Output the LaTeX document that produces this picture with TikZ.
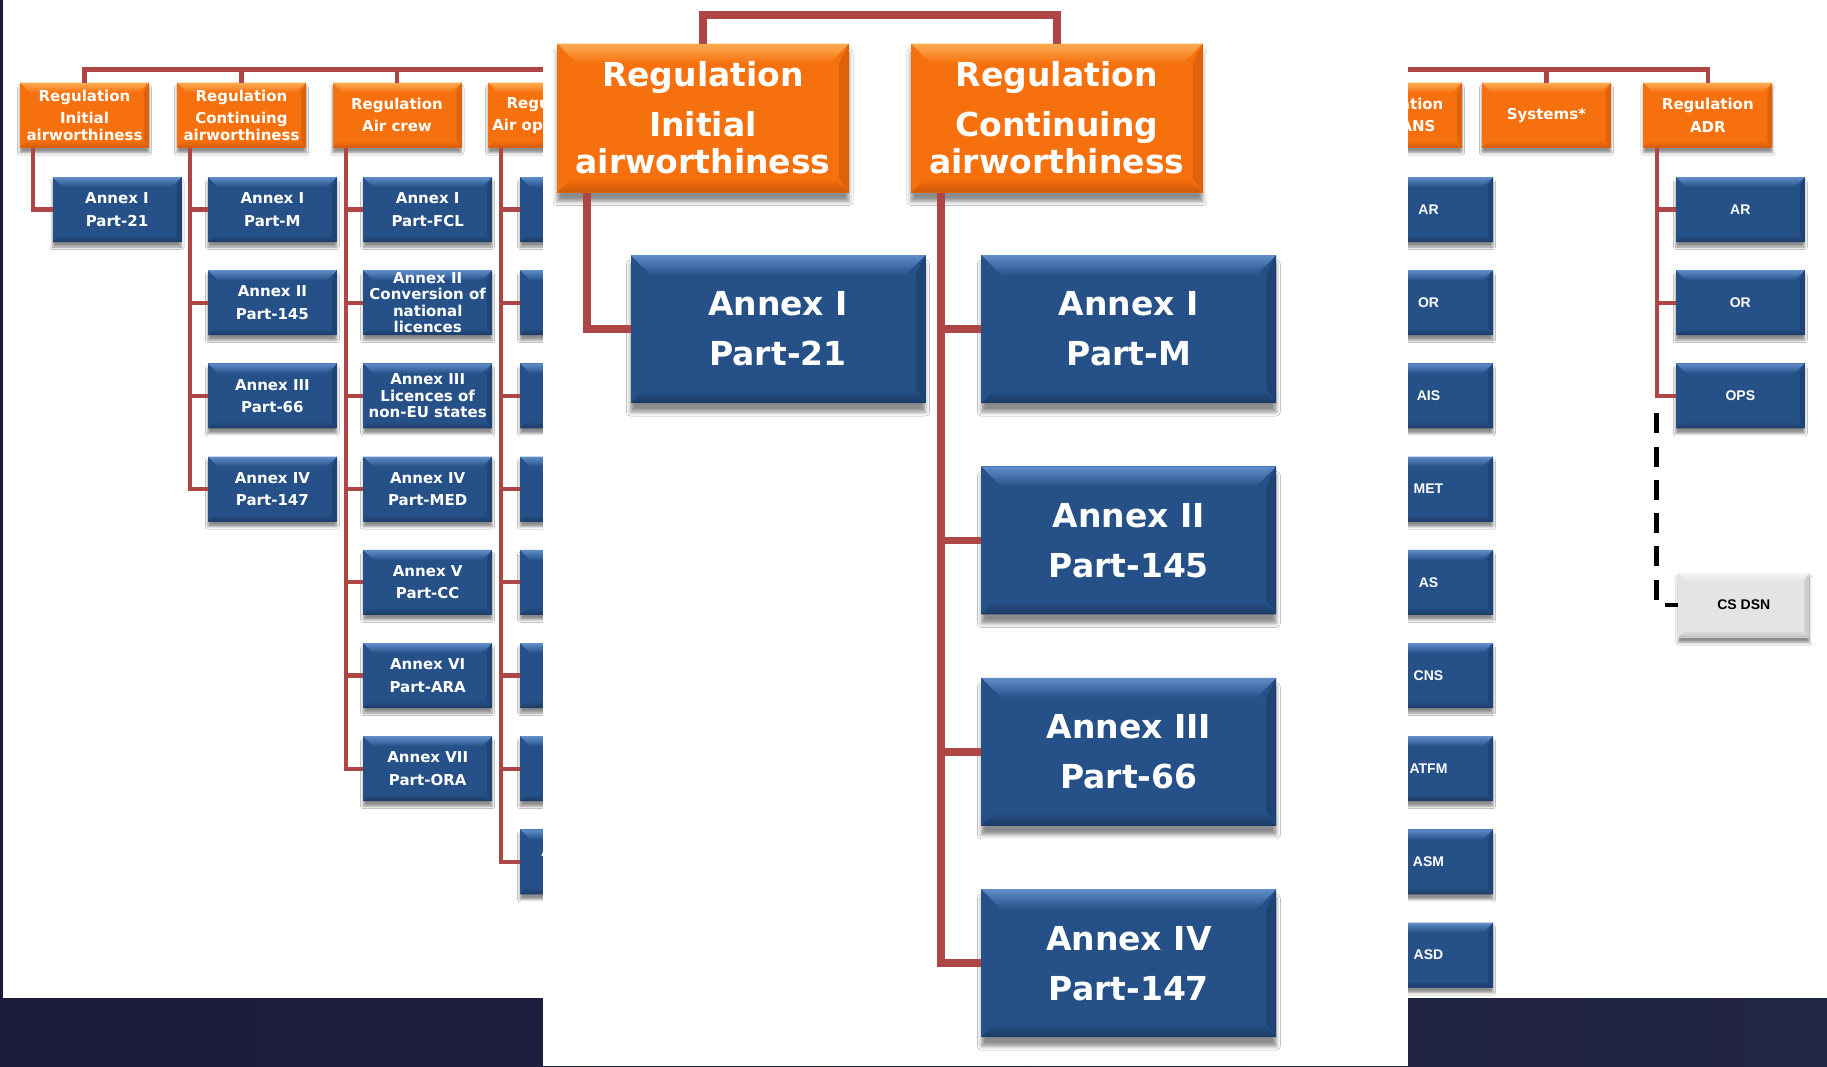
\documentclass[tikz,border=0pt]{standalone}
\usepackage{fontspec}
\setmainfont{DejaVu Sans}
\newfontfamily\arialfont{Liberation Sans}
\usetikzlibrary{shadows.blur}

\definecolor{orgbody}{RGB}{247,112,14}
\definecolor{orglight}{RGB}{252,172,84}
\definecolor{orgdark}{RGB}{206,88,10}
\definecolor{bluebody}{RGB}{38,81,136}
\definecolor{bluelight}{RGB}{96,142,202}
\definecolor{bluedark}{RGB}{27,58,100}
\definecolor{graybody}{RGB}{228,228,228}
\definecolor{graylight}{RGB}{247,247,247}
\definecolor{graydark}{RGB}{188,188,188}
\definecolor{linkred}{RGB}{174,70,70}
\definecolor{navyA}{RGB}{27,26,58}
\definecolor{navyB}{RGB}{46,50,82}
\definecolor{navyC}{RGB}{35,37,68}

\begin{document}
\begin{tikzpicture}[x=1pt,y=-1pt,
  bevel/.style n args={4}{fill=#1, path picture={
      \coordinate (pa) at (path picture bounding box.north west);
      \coordinate (pb) at (path picture bounding box.north east);
      \coordinate (pc) at (path picture bounding box.south east);
      \coordinate (pd) at (path picture bounding box.south west);
      \shade[top color=#2, bottom color=#1] (pa) -- (pb) -- ([shift={(-#4pt,-#4pt)}]pb) -- ([shift={(#4pt,-#4pt)}]pa) -- cycle;
      \shade[top color=#1, bottom color=#3] (pd) -- (pc) -- ([shift={(-0.7*#4pt,0.7*#4pt)}]pc) -- ([shift={(0.7*#4pt,0.7*#4pt)}]pd) -- cycle;
      \fill[#3, opacity=0.6] (pb) -- (pc) -- ([shift={(-0.5*#4pt,0.7*#4pt)}]pc) -- ([shift={(-0.5*#4pt,-#4pt)}]pb) -- cycle;
  }},
  tile/.style={rectangle, inner sep=0pt, outer sep=0pt, align=center, text=white,
    minimum width=129pt, minimum height=65pt,
    font=\fontsize{15}{16.6}\selectfont\bfseries},
  smallshadow/.style={blur shadow={shadow xshift=0pt, shadow yshift=-5pt, shadow blur radius=2.5pt, shadow opacity=45}},
  bigshadow/.style={blur shadow={shadow xshift=0pt, shadow yshift=-9pt, shadow blur radius=4pt, shadow opacity=45}},
  orangebox/.style={tile, smallshadow, bevel={orgbody}{orglight}{orgdark}{10}},
  bluebox/.style={tile, smallshadow, bevel={bluebody}{bluelight}{bluedark}{10}},
  atmbox/.style={bluebox, font=\arialfont\fontsize{14}{16}\selectfont\bfseries},
  graybox/.style={tile, smallshadow, minimum width=131pt, text=black,
    font=\arialfont\fontsize{14}{16}\selectfont\bfseries, bevel={graybody}{graylight}{graydark}{10}},
  bigorange/.style={tile, bigshadow, minimum width=292pt, minimum height=149pt,
    font=\fontsize{33}{36.7}\selectfont\bfseries, bevel={orgbody}{orglight}{orgdark}{20}},
  bigblue/.style={tile, bigshadow, minimum width=295pt, minimum height=148pt,
    font=\fontsize{33}{36.7}\selectfont\bfseries, bevel={bluebody}{bluelight}{bluedark}{20}},
  redline/.style={draw=linkred, line width=4.2pt},
  bigline/.style={draw=linkred, line width=7.5pt},
  dashline/.style={draw=black, line width=4.6pt, dash pattern=on 20pt off 13.3pt}
]
\useasboundingbox (0,0) rectangle (1827,1066);
\fill[white] (0,0) rectangle (1827,1066);

% regulations behind the panel
\node[orangebox] (rinit) at (84.5,115.2) {Regulation\\[5.8pt]Initial\\airworthiness};
\node[orangebox] (rcont) at (241.5,115.2) {Regulation\\[5.8pt]Continuing\\airworthiness};
\node[orangebox] (rcrew) at (397,115.2) {Regulation\\[5.8pt]Air crew};
\node[orangebox] (rops) at (552.5,115.2) {Regulation\\[5.8pt]Air operations};
\node[orangebox] (rans) at (1397.5,115.2) {Regulation\\[5.8pt]ATM/ANS};
\node[orangebox] (rsys) at (1546.4,115.2) {Systems*};
\node[orangebox] (radr) at (1707.8,115.2) {Regulation\\[5.8pt]ADR};

\node[bluebox] (p21) at (117,209.5) {Annex I\\[5.8pt]Part-21};

\node[bluebox] (pm) at (272.4,209.5) {Annex I\\[5.8pt]Part-M};
\node[bluebox] (p145) at (272.4,302.7) {Annex II\\[5.8pt]Part-145};
\node[bluebox] (p66) at (272.4,395.9) {Annex III\\[5.8pt]Part-66};
\node[bluebox] (p147) at (272.4,489.1) {Annex IV\\[5.8pt]Part-147};

\node[bluebox] (pfcl) at (427.7,209.5) {Annex I\\[5.8pt]Part-FCL};
\node[bluebox] (pconv) at (427.7,302.7) {Annex II\\Conversion of\\national\\licences};
\node[bluebox] (plic) at (427.7,395.9) {Annex III\\Licences of\\non-EU states};
\node[bluebox] (pmed) at (427.7,489.1) {Annex IV\\[5.8pt]Part-MED};
\node[bluebox] (pcc) at (427.7,582.3) {Annex V\\[5.8pt]Part-CC};
\node[bluebox] (para) at (427.7,675.5) {Annex VI\\[5.8pt]Part-ARA};
\node[bluebox] (pora) at (427.7,768.7) {Annex VII\\[5.8pt]Part-ORA};

\node[bluebox] (opsa) at (584.5,209.5) {};
\node[bluebox] (opsb) at (584.5,302.7) {};
\node[bluebox] (opsc) at (584.5,395.9) {};
\node[bluebox] (opsd) at (584.5,489.1) {};
\node[bluebox] (opse) at (584.5,582.3) {};
\node[bluebox] (opsf) at (584.5,675.5) {};
\node[bluebox] (opsg) at (584.5,768.7) {};
\node[bluebox] (opsh) at (584.5,861.9) {Annex VIII\\[5.8pt]Part-SPO};

\node[atmbox] (ar) at (1428.5,209.5) {AR};
\node[atmbox] (or) at (1428.5,302.7) {OR};
\node[atmbox] (ais) at (1428.5,395.9) {AIS};
\node[atmbox] (met) at (1428.5,489.1) {MET};
\node[atmbox] (as) at (1428.5,582.3) {AS};
\node[atmbox] (cns) at (1428.5,675.5) {CNS};
\node[atmbox] (atfm) at (1428.5,768.7) {ATFM};
\node[atmbox] (asm) at (1428.5,861.9) {ASM};
\node[atmbox] (asd) at (1428.5,955.1) {ASD};

\node[atmbox] (adrar) at (1740.3,209.5) {AR};
\node[atmbox] (adror) at (1740.3,302.7) {OR};
\node[atmbox] (adrops) at (1740.3,395.9) {OPS};
\node[graybox] (csdsn) at (1743.8,605) {CS DSN};

\coordinate (bus) at (0,69.5);
\draw[redline] (rinit.north) -- (rinit.north |- bus) -| (radr.north);
\foreach \n in {rcont,rcrew,rops,rans,rsys}
  \draw[redline] (\n.north) -- (\n.north |- bus);

\coordinate (tinit) at ([xshift=-51.3pt]rinit.south);
\coordinate (tcont) at ([xshift=-51.3pt]rcont.south);
\coordinate (tcrew) at ([xshift=-51.3pt]rcrew.south);
\coordinate (tops) at ([xshift=-51.3pt]rops.south);
\coordinate (tadr) at ([xshift=-51.1pt]radr.south);
\draw[redline] (tinit) |- (p21.west);
\draw[redline] (tcont) |- (p147.west);
\foreach \n in {pm,p145,p66}
  \draw[redline] (\n.west) -- (\n.west -| tcont);
\draw[redline] (tcrew) |- (pora.west);
\foreach \n in {pfcl,pconv,plic,pmed,pcc,para}
  \draw[redline] (\n.west) -- (\n.west -| tcrew);
\draw[redline] (tops) |- (opsh.west);
\foreach \n in {opsa,opsb,opsc,opsd,opse,opsf,opsg}
  \draw[redline] (\n.west) -- (\n.west -| tops);
\draw[redline] (tadr) |- (adrops.west);
\foreach \n in {adrar,adror}
  \draw[redline] (\n.west) -- (\n.west -| tadr);

\coordinate (dsntop) at ([yshift=-17.3pt]adrops.west -| tadr);
\draw[dashline] (dsntop) |- (csdsn.west);

% slide frame
\shade[left color=navyA, middle color=navyB, right color=navyC] (0,998) rectangle (1827,1066);
\fill[navyA] (0,0) rectangle (2.5,998);

% zoomed panel
\fill[white] (543,0) rectangle (1407.6,1066);

\node[bigorange] (minit) at (703,118) {Regulation\\[13.3pt]Initial\\airworthiness};
\node[bigorange] (mcont) at (1056.8,118) {Regulation\\[13.3pt]Continuing\\airworthiness};
\node[bigblue] (m21) at (778,329) {Annex I\\[13.3pt]Part-21};
\node[bigblue] (mm) at (1128.8,329) {Annex I\\[13.3pt]Part-M};
\node[bigblue] (m145) at (1128.8,540.4) {Annex II\\[13.3pt]Part-145};
\node[bigblue] (m66) at (1128.8,751.8) {Annex III\\[13.3pt]Part-66};
\node[bigblue] (m147) at (1128.8,963.2) {Annex IV\\[13.3pt]Part-147};

\coordinate (mbus) at (0,15);
\draw[bigline] (minit.north) -- (minit.north |- mbus) -| (mcont.north);
\coordinate (tminit) at ([xshift=-115.8pt]minit.south);
\coordinate (tmcont) at ([xshift=-115.8pt]mcont.south);
\draw[bigline] (tminit) |- (m21.west);
\draw[bigline] (tmcont) |- (m147.west);
\foreach \n in {mm,m145,m66}
  \draw[bigline] (\n.west) -- (\n.west -| tmcont);
\end{tikzpicture}
\end{document}
